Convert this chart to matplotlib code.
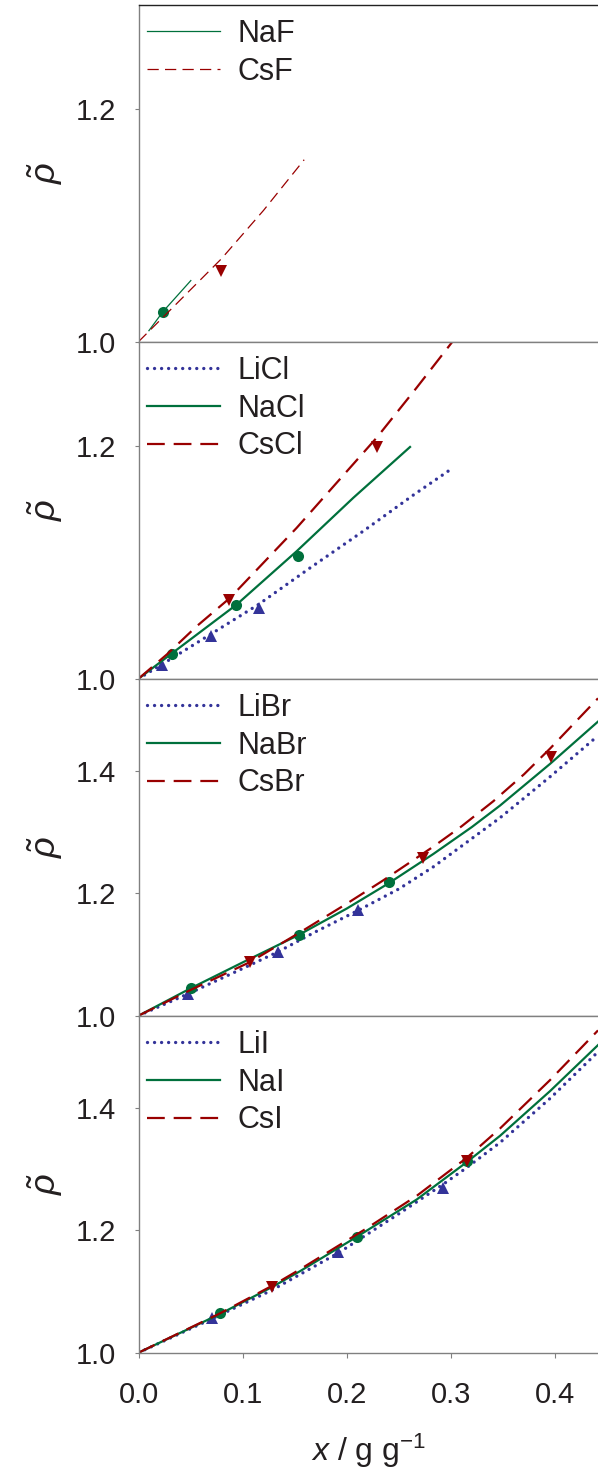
import matplotlib
matplotlib.use('Agg')  # no display in the sandbox
import matplotlib.pyplot as plt

plt.rcParams['font.family'] = ['Liberation Sans', 'DejaVu Sans']
plt.rcParams['mathtext.fontset'] = 'custom'
plt.rcParams['mathtext.rm'] = 'Liberation Sans'
plt.rcParams['mathtext.it'] = 'Liberation Sans:italic'

GREEN = '#00703c'
RED = '#990000'
BLUE = '#333399'
SPINE = '#808080'
TEXT = '#231f20'

# --- fluorides (model curves + measured points) ---
naf_x = [0.010, 0.0235, 0.0502]
naf_y = [1.0095, 1.0259, 1.0526]
naf_pt_x = [0.0235]
naf_pt_y = [1.0259]
csf_x = [0.0, 0.0283, 0.0795, 0.120, 0.159]
csf_y = [1.0, 1.0253, 1.0713, 1.113, 1.1566]
csf_pt_x = [0.0795]
csf_pt_y = [1.0606]

# --- chlorides ---
licl_x = [0.0, 0.0229, 0.0686, 0.115, 0.1646, 0.2157, 0.2637, 0.2983]
licl_y = [1.0, 1.0125, 1.0379, 1.0638, 1.0953, 1.127, 1.158, 1.1793]
licl_pt_x = [0.0229, 0.0696, 0.1157]
licl_pt_y = [1.012, 1.037, 1.0609]
nacl_x = [0.0, 0.0318, 0.0942, 0.1518, 0.2062, 0.2606]
nacl_y = [1.0, 1.0216, 1.0638, 1.1097, 1.1557, 1.1994]
nacl_pt_x = [0.0318, 0.094, 0.1528]
nacl_pt_y = [1.0216, 1.0638, 1.1054]
cscl_x = [0.0, 0.027, 0.0558, 0.0878, 0.1518, 0.2286, 0.267, 0.302]
cscl_y = [1.0, 1.0207, 1.0451, 1.0695, 1.1298, 1.2074, 1.2505, 1.2908]
cscl_pt_x = [0.0868, 0.2292]
cscl_pt_y = [1.068, 1.1994]

# --- bromides ---
libr_x = [0.0, 0.048, 0.100, 0.1336, 0.170, 0.211, 0.250, 0.283, 0.347, 0.395, 0.441]
libr_y = [1.0, 1.036, 1.077, 1.104, 1.137, 1.172, 1.207, 1.243, 1.323, 1.390, 1.457]
libr_pt_x = [0.0478, 0.1336, 0.211]
libr_pt_y = [1.0355, 1.1047, 1.1717]
nabr_x = [0.0, 0.050, 0.100, 0.154, 0.200, 0.240, 0.283, 0.320, 0.347, 0.395, 0.441]
nabr_y = [1.0, 1.0447, 1.087, 1.132, 1.175, 1.216, 1.264, 1.308, 1.343, 1.411, 1.480]
nabr_pt_x = [0.0504, 0.1543, 0.2407]
nabr_pt_y = [1.0447, 1.1325, 1.218]
csbr_x = [0.0, 0.050, 0.107, 0.155, 0.200, 0.235, 0.283, 0.310, 0.3405, 0.370, 0.395, 0.441]
csbr_y = [1.0, 1.042, 1.0875, 1.136, 1.183, 1.221, 1.276, 1.309, 1.350, 1.394, 1.436, 1.518]
csbr_pt_x = [0.107, 0.2733, 0.3956]
csbr_pt_y = [1.0872, 1.2579, 1.4214]

# --- iodides ---
lii_x = [0.0, 0.070, 0.128, 0.192, 0.251, 0.2925, 0.315, 0.347, 0.395, 0.441]
lii_y = [1.0, 1.055, 1.102, 1.163, 1.228, 1.275, 1.302, 1.343, 1.415, 1.491]
lii_pt_x = [0.0702, 0.1918, 0.2925]
lii_pt_y = [1.056, 1.1646, 1.268]
nai_x = [0.0, 0.078, 0.128, 0.155, 0.2094, 0.267, 0.315, 0.347, 0.395, 0.441]
nai_y = [1.0, 1.063, 1.107, 1.133, 1.189, 1.250, 1.311, 1.354, 1.427, 1.502]
nai_pt_x = [0.0782, 0.2094, 0.315]
nai_pt_y = [1.0642, 1.189, 1.313]
csi_x = [0.0, 0.078, 0.128, 0.155, 0.219, 0.267, 0.315, 0.347, 0.395, 0.441]
csi_y = [1.0, 1.064, 1.109, 1.136, 1.203, 1.256, 1.318, 1.366, 1.445, 1.526]
csi_pt_x = [0.1278, 0.315]
csi_pt_y = [1.1076, 1.313]

x_ticks = [0.0, 0.1, 0.2, 0.3, 0.4]

# line styles: colour, dash pattern (in linewidths), marker
STYLE = {
    'Li': dict(color=BLUE, dashes=(0.01, 2.1), marker='^', lw=2.4),
    'Na': dict(color=GREEN, dashes=None, marker='o', lw=1.6),
    'Cs': dict(color=RED, dashes=(8, 4), marker='v', lw=1.6),
}

W, H = 598, 1475
LEFT_PX = 138.5
PANEL_H = 337.0
BOTTOM_PX = 1352.7

fig = plt.figure(figsize=(W / 100, H / 100), dpi=100)


def make_axes(i, ymax, yticks):
    bot = BOTTOM_PX - (3 - i) * PANEL_H
    ax = fig.add_axes([LEFT_PX / W, 1 - bot / H, (W - LEFT_PX) / W, PANEL_H / H])
    ax.set_xlim(0, 0.441)
    ax.set_ylim(1.0, ymax)
    ax.set_yticks(yticks)
    ax.set_yticklabels([f'{t:.1f}' for t in yticks])
    for s in ax.spines.values():
        s.set_color(SPINE)
        s.set_linewidth(1.0)
    ax.spines['right'].set_visible(False)
    ax.tick_params(axis='y', direction='out', length=3, width=0.8, color=SPINE,
                   labelsize=21, pad=13, labelcolor=TEXT)
    ax.set_ylabel(r'$\tilde{\rho}$', fontsize=26, color=TEXT)
    ax.yaxis.set_label_coords(-0.16, 0.5)
    return ax


def draw(ax, kind, x, y, px, py, label, thin=False):
    st = STYLE[kind]
    lw = 0.9 if thin else st['lw']
    kw = dict(color=st['color'], lw=lw, label=label)
    if st['dashes'] is not None:
        kw['dashes'] = (9, 5) if thin else st['dashes']
        if kind == 'Li':
            kw['dash_capstyle'] = 'round'
    ax.plot(x, y, **kw)
    ax.plot(px, py, linestyle='none', marker=st['marker'], color=st['color'],
            markersize=8 if st['marker'] == 'o' else 8.5, markeredgewidth=0)


def legend(ax):
    ax.legend(loc='upper left', bbox_to_anchor=(0.0185, 0.957), frameon=False,
              fontsize=22, handlelength=2.4, handletextpad=0.55,
              labelspacing=0.25, borderpad=0, borderaxespad=0,
              labelcolor=TEXT)


ax1 = make_axes(0, 1.29, [1.0, 1.2])
draw(ax1, 'Na', naf_x, naf_y, naf_pt_x, naf_pt_y, 'NaF', thin=True)
draw(ax1, 'Cs', csf_x, csf_y, csf_pt_x, csf_pt_y, 'CsF', thin=True)
ax1.spines['top'].set_color('#222222')
legend(ax1)

ax2 = make_axes(1, 1.29, [1.0, 1.2])
draw(ax2, 'Li', licl_x, licl_y, licl_pt_x, licl_pt_y, 'LiCl')
draw(ax2, 'Na', nacl_x, nacl_y, nacl_pt_x, nacl_pt_y, 'NaCl')
draw(ax2, 'Cs', cscl_x, cscl_y, cscl_pt_x, cscl_pt_y, 'CsCl')
legend(ax2)

ax3 = make_axes(2, 1.55, [1.0, 1.2, 1.4])
draw(ax3, 'Li', libr_x, libr_y, libr_pt_x, libr_pt_y, 'LiBr')
draw(ax3, 'Na', nabr_x, nabr_y, nabr_pt_x, nabr_pt_y, 'NaBr')
draw(ax3, 'Cs', csbr_x, csbr_y, csbr_pt_x, csbr_pt_y, 'CsBr')
legend(ax3)

ax4 = make_axes(3, 1.55, [1.0, 1.2, 1.4])
draw(ax4, 'Li', lii_x, lii_y, lii_pt_x, lii_pt_y, 'LiI')
draw(ax4, 'Na', nai_x, nai_y, nai_pt_x, nai_pt_y, 'NaI')
draw(ax4, 'Cs', csi_x, csi_y, csi_pt_x, csi_pt_y, 'CsI')
legend(ax4)

for ax in (ax1, ax2, ax3):
    ax.tick_params(axis='x', bottom=False, labelbottom=False)

ax4.set_xticks(x_ticks)
ax4.set_xticklabels([f'{t:.1f}' for t in x_ticks])
ax4.tick_params(axis='x', direction='out', length=3.5, width=0.8, color=SPINE,
                labelsize=21, pad=17, labelcolor=TEXT)
ax4.set_xlabel(r'$x$ / g g$^{-1}$', fontsize=23, color=TEXT, labelpad=16)

fig.savefig('out.png', dpi=100)
